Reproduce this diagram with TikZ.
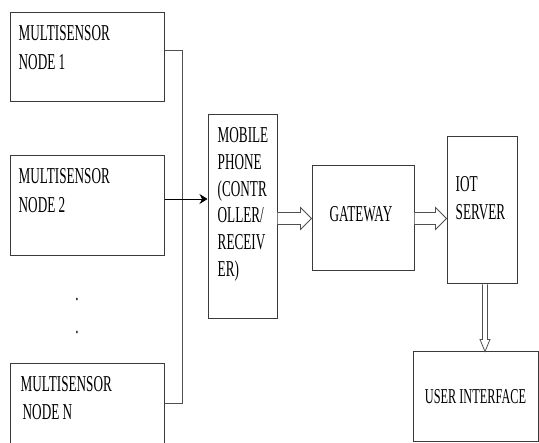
\documentclass[tikz,border=0pt]{standalone}
\usepackage{fontspec}
\setmainfont{Liberation Serif}
\usepackage{graphicx}
\usetikzlibrary{positioning, arrows.meta, calc}
\definecolor{linec}{HTML}{3A3A3A}
\definecolor{wirec}{HTML}{505050}
% tall, narrow lettering as in the scanned figure
\newcommand{\tall}[1]{\scalebox{1}[1.72]{\begin{tabular}[t]{@{}l@{}}#1\end{tabular}}}

\begin{document}
\begin{tikzpicture}[x=1pt, y=-1pt, font=\fontsize{13.2}{15.6}\selectfont,
    box/.style 2 args={draw=linec, line width=1pt, minimum width=#1, minimum height=#2, inner sep=0pt},
    txt/.style={anchor=base west, inner sep=0pt},
    wire/.style={draw=wirec, line width=0.9pt},
    hollow/.style={draw=wirec, fill=white, line width=0.8pt, line join=miter}]
  \clip (0,0) rectangle (539,443);
  % blocks (pixel grid of the figure)
  \node[box={154pt}{89pt}]  (n1)  at (87,57.5)   {};
  \node[box={154pt}{100pt}] (n2)  at (87,206)    {};
  \node[box={154pt}{106pt}] (nN)  at (87,417)    {};
  \node[box={69pt}{204pt}]  (mob) at (242.5,217) {};
  \node[box={102pt}{105pt}] (gw)  at (363,218.5) {};
  \node[box={70pt}{147pt}]  (srv) at (482,210.5) {};
  \node[box={125pt}{90pt}]  (ui)  at (475.5,397) {};
  % labels
  \node[txt] (t1)   at ($(n1.north west)+(9,28.5)$)  {\tall{MULTISENSOR\\[0.8pt]NODE 1}};
  \node[txt] (t2)   at ($(n2.north west)+(9,28.5)$)  {\tall{MULTISENSOR\\[0.8pt]NODE 2}};
  \node[txt] (tN)   at ($(nN.north west)+(11,28)$)   {\tall{MULTISENSOR\\[0.5pt]\hspace{2pt}NODE N}};
  \node[txt] (tmob) at ($(mob.north west)+(10,28)$)  {\tall{MOBILE\\PHONE\\(CONTR\\OLLER/\\RECEIV\\ER)}};
  \node[txt] (tsrv) at ($(srv.north west)+(9,55)$)   {\tall{IOT\\[0.8pt]SERVER}};
  \node (tgw) at ($(gw)+(-2,-4)$) {\scalebox{1}[1.72]{GATEWAY}};
  \node[font=\fontsize{12.3}{14}\selectfont] (tui) at (ui) {\scalebox{1}[1.72]{USER INTERFACE}};
  \node[anchor=base] (d1) at (77,300.5) {\scalebox{1}[1.72]{.}};
  \node[anchor=base] (d2) at (77,333.5) {\scalebox{1}[1.72]{.}};
  % sensor bus
  \coordinate (busT) at (182,50);
  \coordinate (tap)  at (182,199);
  \coordinate (busB) at (182,403);
  \draw[wire] (n1.east |- busT) -- (busT) -- (busB) -- (nN.east |- busB);
  \draw[wire, draw=black, -{Stealth[length=8pt, width=10pt]}] (n2.east |- tap) -- (mob.west |- tap);
  % block arrows
  \draw[hollow] let \p1=(mob.east), \p2=(gw.west) in
    (\x1,\y2+6pt) -- (\x2-11pt,\y2+6pt) -- (\x2-11pt,\y2+11pt) -- (\x2,\y2)
    -- (\x2-11pt,\y2-11pt) -- (\x2-11pt,\y2-6pt) -- (\x1,\y2-6pt);
  \draw[hollow] let \p1=(gw.east), \p2=(srv.west |- gw.east) in
    (\x1,\y2+6pt) -- (\x2-11pt,\y2+6pt) -- (\x2-11pt,\y2+11pt) -- (\x2,\y2)
    -- (\x2-11pt,\y2-11pt) -- (\x2-11pt,\y2-6pt) -- (\x1,\y2-6pt);
  \draw[hollow] let \p1=(srv.south), \p2=(ui.north) in
    (\x1+0.5pt,\y1) -- (\x1+0.5pt,\y2+12pt) -- (\x1-2pt,\y2+12pt) -- (\x1+3pt,\y2)
    -- (\x1+8pt,\y2+12pt) -- (\x1+5.5pt,\y2+12pt) -- (\x1+5.5pt,\y1);
\end{tikzpicture}
\end{document}
